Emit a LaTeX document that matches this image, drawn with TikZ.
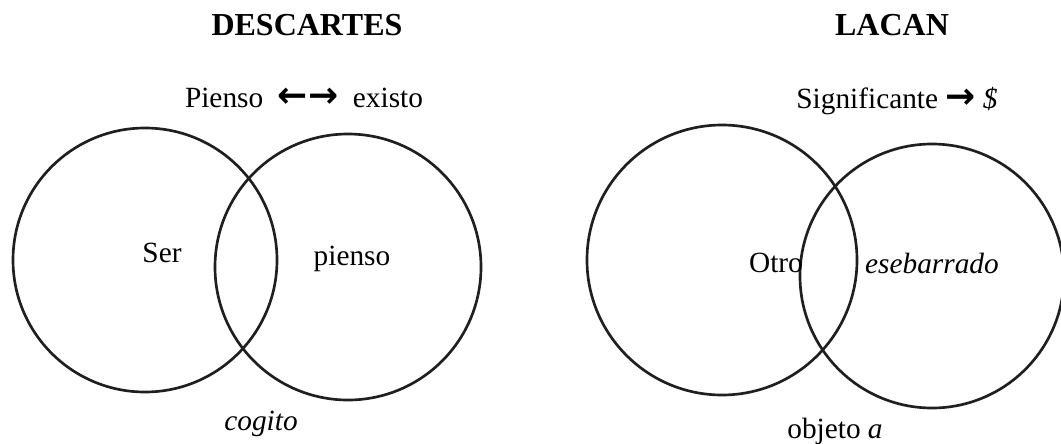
\documentclass[tikz,border=0pt]{standalone}
\usepackage{fontspec}
\setmainfont{Liberation Serif}
\newfontfamily\arrowfont{DejaVu Sans}

\begin{document}
\begin{tikzpicture}[
    x=0.75pt, y=-0.75pt,
    ring/.style={draw=black!88, line width=2pt, circle, inner sep=0pt},
    head/.style={font=\fontsize{24}{28}\selectfont\bfseries, anchor=base, inner sep=0pt},
    lbl/.style={font=\fontsize{22}{26}\selectfont, anchor=base, inner sep=0pt}
]

\useasboundingbox (0,0) rectangle (1061,443);

% Descartes
\node[head] (descartes) at (307,35) {DESCARTES};
\node[lbl] (piensoexisto) at (304,107) {Pienso\ \ {\arrowfont\bfseries\fontsize{27}{30}\selectfont ←→}\ \ existo};

\node[ring, minimum size=198pt] (ser) at (145,260) {};
\node[ring, minimum size=199.5pt] (pensar) at (348,267) {};

\node[lbl] (serlbl) at (162,262) {Ser};
\node[lbl] (piensolbl) at (352,265) {pienso};
\node[lbl] (cogito) at (261,430) {\itshape cogito};

% Lacan
\node[head] (lacan) at (892,35) {LACAN};
\node[lbl] (significante) at (897,108) {Significante {\arrowfont\bfseries\fontsize{27}{30}\selectfont →} \textit{\$}};

\node[ring, minimum size=202.5pt] (otro) at (722,260) {};
\node[ring, minimum size=198pt] (sujeto) at (932,276) {};

\node[lbl] (otrolbl) at (776,272) {Otro};
\node[lbl] (barrado) at (932,273) {\itshape esebarrado};
\node[lbl] (objeto) at (835,438) {objeto \textit{a}};

\end{tikzpicture}
\end{document}
